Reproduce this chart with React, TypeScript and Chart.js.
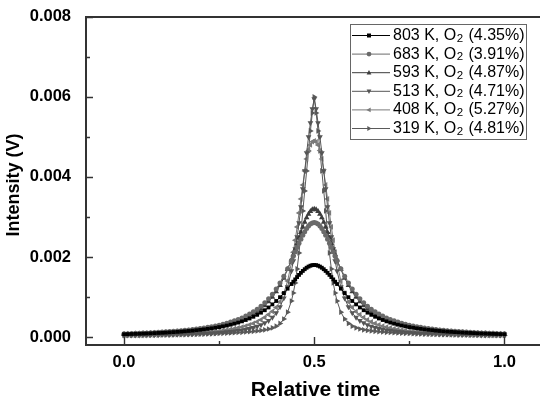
import { useEffect, useRef } from "react";
import { Chart, registerables } from "chart.js";
Chart.register(...registerables);

// Relative time (x) – denser sampling near the peak
const relTime = [
  0, 0.01, 0.02, 0.03, 0.04, 0.05, 0.06, 0.07, 0.08, 0.09, 0.1, 0.11, 0.12, 0.13, 0.14, 0.15, 0.16, 0.17, 0.18, 0.19,
  0.2, 0.21, 0.22, 0.23, 0.24, 0.25, 0.26, 0.27, 0.28, 0.29, 0.3, 0.31, 0.32, 0.33, 0.34, 0.35, 0.36, 0.37, 0.38, 0.39,
  0.4, 0.41, 0.42, 0.43, 0.44,
  0.445, 0.45, 0.455, 0.46, 0.465, 0.47, 0.475, 0.48, 0.485, 0.49, 0.495, 0.5, 0.505, 0.51, 0.515, 0.52, 0.525, 0.53,
  0.535, 0.54, 0.545, 0.55, 0.555,
  0.56, 0.57, 0.58, 0.59, 0.6, 0.61, 0.62, 0.63, 0.64, 0.65, 0.66, 0.67, 0.68, 0.69, 0.7, 0.71, 0.72, 0.73, 0.74, 0.75,
  0.76, 0.77, 0.78, 0.79, 0.8, 0.81, 0.82, 0.83, 0.84, 0.85, 0.86, 0.87, 0.88, 0.89, 0.9, 0.91, 0.92, 0.93, 0.94, 0.95,
  0.96, 0.97, 0.98, 0.99, 1.0,
];

// Intensities in mV (converted to V for plotting)
const int803K = [
  0.069, 0.072, 0.075, 0.078, 0.081, 0.085, 0.088, 0.092, 0.097, 0.101, 0.106, 0.111, 0.117, 0.123, 0.129, 0.136, 0.143, 0.151, 0.160, 0.170,
  0.180, 0.191, 0.204, 0.217, 0.232, 0.248, 0.266, 0.286, 0.308, 0.333, 0.360, 0.391, 0.425, 0.463, 0.506, 0.554, 0.608, 0.669, 0.738, 0.815,
  0.900, 0.995, 1.098, 1.208, 1.324,
  1.382, 1.440, 1.497, 1.552, 1.604, 1.651, 1.694, 1.731, 1.760, 1.782, 1.796, 1.800, 1.796, 1.782, 1.760, 1.731, 1.694, 1.651,
  1.604, 1.552, 1.497, 1.440, 1.382,
  1.324, 1.208, 1.098, 0.995, 0.900, 0.815, 0.738, 0.669, 0.608, 0.554, 0.506, 0.463, 0.425, 0.391, 0.360, 0.333, 0.308, 0.286, 0.266, 0.248,
  0.232, 0.217, 0.204, 0.191, 0.180, 0.170, 0.160, 0.151, 0.143, 0.136, 0.129, 0.123, 0.117, 0.111, 0.106, 0.101, 0.097, 0.092, 0.088, 0.085,
  0.081, 0.078, 0.075, 0.072, 0.069,
];
const int683K = [
  0.080, 0.084, 0.087, 0.091, 0.094, 0.099, 0.103, 0.108, 0.113, 0.118, 0.124, 0.130, 0.136, 0.143, 0.151, 0.159, 0.168, 0.178, 0.189, 0.200,
  0.213, 0.226, 0.241, 0.258, 0.276, 0.296, 0.319, 0.344, 0.372, 0.403, 0.438, 0.477, 0.522, 0.572, 0.630, 0.695, 0.770, 0.857, 0.956, 1.069,
  1.200, 1.348, 1.517, 1.704, 1.909,
  2.016, 2.125, 2.234, 2.342, 2.446, 2.543, 2.632, 2.710, 2.774, 2.821, 2.850, 2.860, 2.850, 2.821, 2.774, 2.710, 2.632, 2.543,
  2.446, 2.342, 2.234, 2.125, 2.016,
  1.909, 1.704, 1.517, 1.348, 1.200, 1.069, 0.956, 0.857, 0.770, 0.695, 0.630, 0.572, 0.522, 0.477, 0.438, 0.403, 0.372, 0.344, 0.319, 0.296,
  0.276, 0.258, 0.241, 0.226, 0.213, 0.200, 0.189, 0.178, 0.168, 0.159, 0.151, 0.143, 0.136, 0.130, 0.124, 0.118, 0.113, 0.108, 0.103, 0.099,
  0.094, 0.091, 0.087, 0.084, 0.080,
];
const int593K = [
  0.069, 0.071, 0.074, 0.077, 0.081, 0.084, 0.088, 0.092, 0.096, 0.101, 0.106, 0.111, 0.117, 0.123, 0.130, 0.137, 0.145, 0.153, 0.162, 0.173,
  0.184, 0.196, 0.209, 0.224, 0.240, 0.258, 0.278, 0.300, 0.325, 0.354, 0.385, 0.422, 0.463, 0.510, 0.564, 0.626, 0.699, 0.783, 0.882, 0.997,
  1.132, 1.291, 1.475, 1.689, 1.931,
  2.061, 2.197, 2.336, 2.476, 2.615, 2.748, 2.872, 2.982, 3.074, 3.143, 3.186, 3.200, 3.186, 3.143, 3.074, 2.982, 2.872, 2.748,
  2.615, 2.476, 2.336, 2.197, 2.061,
  1.931, 1.689, 1.475, 1.291, 1.132, 0.997, 0.882, 0.783, 0.699, 0.626, 0.564, 0.510, 0.463, 0.422, 0.385, 0.354, 0.325, 0.300, 0.278, 0.258,
  0.240, 0.224, 0.209, 0.196, 0.184, 0.173, 0.162, 0.153, 0.145, 0.137, 0.130, 0.123, 0.117, 0.111, 0.106, 0.101, 0.096, 0.092, 0.088, 0.084,
  0.081, 0.077, 0.074, 0.071, 0.069,
];
const int513K = [
  0.041, 0.042, 0.043, 0.044, 0.045, 0.047, 0.048, 0.050, 0.051, 0.053, 0.055, 0.057, 0.059, 0.062, 0.064, 0.067, 0.070, 0.073, 0.076, 0.080,
  0.084, 0.088, 0.093, 0.098, 0.104, 0.111, 0.118, 0.126, 0.135, 0.146, 0.158, 0.173, 0.190, 0.210, 0.235, 0.265, 0.300, 0.350, 0.410, 0.490,
  0.600, 0.750, 0.970, 1.250, 1.650,
  1.900, 2.200, 2.500, 2.850, 3.250, 3.700, 4.150, 4.600, 5.000, 5.350, 5.700, 5.950, 5.700, 5.350, 5.000, 4.600, 4.150, 3.700,
  3.250, 2.850, 2.500, 2.200, 1.900,
  1.650, 1.250, 0.970, 0.750, 0.600, 0.490, 0.410, 0.350, 0.300, 0.265, 0.235, 0.210, 0.190, 0.173, 0.158, 0.146, 0.135, 0.126, 0.118, 0.111,
  0.104, 0.098, 0.093, 0.088, 0.084, 0.080, 0.076, 0.073, 0.070, 0.067, 0.064, 0.062, 0.059, 0.057, 0.055, 0.053, 0.051, 0.050, 0.048, 0.047,
  0.045, 0.044, 0.043, 0.042, 0.041,
];
const int408K = [
  0.049, 0.050, 0.052, 0.053, 0.055, 0.057, 0.059, 0.061, 0.064, 0.066, 0.069, 0.072, 0.075, 0.078, 0.082, 0.086, 0.090, 0.095, 0.100, 0.106,
  0.112, 0.118, 0.126, 0.134, 0.143, 0.153, 0.164, 0.177, 0.192, 0.209, 0.228, 0.250, 0.275, 0.305, 0.340, 0.380, 0.430, 0.490, 0.560, 0.640,
  0.740, 0.880, 1.100, 1.400, 1.850,
  2.120, 2.420, 2.750, 3.100, 3.450, 3.800, 4.150, 4.450, 4.660, 4.800, 4.880, 4.900, 4.880, 4.800, 4.660, 4.450, 4.150, 3.800,
  3.450, 3.100, 2.750, 2.420, 2.120,
  1.850, 1.400, 1.100, 0.880, 0.740, 0.640, 0.560, 0.490, 0.430, 0.380, 0.340, 0.305, 0.275, 0.250, 0.228, 0.209, 0.192, 0.177, 0.164, 0.153,
  0.143, 0.134, 0.126, 0.118, 0.112, 0.106, 0.100, 0.095, 0.090, 0.086, 0.082, 0.078, 0.075, 0.072, 0.069, 0.066, 0.064, 0.061, 0.059, 0.057,
  0.055, 0.053, 0.052, 0.050, 0.049,
];
const int319K = [
  0.038, 0.039, 0.040, 0.041, 0.042, 0.043, 0.044, 0.045, 0.047, 0.048, 0.050, 0.051, 0.053, 0.055, 0.057, 0.059, 0.061, 0.063, 0.066, 0.068,
  0.071, 0.074, 0.077, 0.080, 0.084, 0.088, 0.092, 0.096, 0.101, 0.106, 0.112, 0.118, 0.125, 0.133, 0.142, 0.152, 0.165, 0.180, 0.200, 0.230,
  0.270, 0.340, 0.450, 0.620, 0.900,
  1.100, 1.350, 1.700, 2.100, 2.600, 3.150, 3.650, 4.150, 4.650, 5.150, 5.600, 6.000, 5.600, 5.150, 4.650, 4.150, 3.650, 3.150,
  2.600, 2.100, 1.700, 1.350, 1.100,
  0.900, 0.620, 0.450, 0.340, 0.270, 0.230, 0.200, 0.180, 0.165, 0.152, 0.142, 0.133, 0.125, 0.118, 0.112, 0.106, 0.101, 0.096, 0.092, 0.088,
  0.084, 0.080, 0.077, 0.074, 0.071, 0.068, 0.066, 0.063, 0.061, 0.059, 0.057, 0.055, 0.053, 0.051, 0.050, 0.048, 0.047, 0.045, 0.044, 0.043,
  0.042, 0.041, 0.040, 0.039, 0.038,
];

const temperatures = ["803 K", "683 K", "593 K", "513 K", "408 K", "319 K"];
const o2Fractions = ["4.35%", "3.91%", "4.87%", "4.71%", "5.27%", "4.81%"];
const seriesValues = [int803K, int683K, int593K, int513K, int408K, int319K];

const xMajorTicks = [0, 0.5, 1.0];
const xMinorTicks = [0.25, 0.75];
const yMajorTicks = [0, 0.002, 0.004, 0.006, 0.008];
const yMinorTicks = [0.001, 0.003, 0.005, 0.007];

// styles
const seriesColors = ["#000000", "#6a6a6a", "#3c3c3c", "#555555", "#7a7a7a", "#5a5a5a"];
const pointStyles = ["rect", "circle", "triangle", "triangle", "triangle", "triangle"];
const pointRotations = [0, 0, 0, 180, 270, 90];
const pointRadii = [2.7, 2.5, 3.3, 3.3, 3.3, 3.3];

const FONT = "'Liberation Sans', Arial, sans-serif";

function drawMarker(ctx: CanvasRenderingContext2D, style: string, rot: number, cx: number, cy: number, r: number) {
  ctx.save();
  ctx.translate(cx, cy);
  ctx.rotate((rot * Math.PI) / 180);
  ctx.beginPath();
  if (style === "rect") {
    ctx.rect(-r, -r, 2 * r, 2 * r);
  } else if (style === "circle") {
    ctx.arc(0, 0, r, 0, Math.PI * 2);
  } else {
    ctx.moveTo(0, -r * 1.1);
    ctx.lineTo(r, r * 0.7);
    ctx.lineTo(-r, r * 0.7);
    ctx.closePath();
  }
  ctx.fill();
  ctx.restore();
}

const decorPlugin = {
  id: "decor",
  afterDraw(chart: any) {
    const { ctx, chartArea: a, scales } = chart;
    const xs = scales.x;
    const ys = scales.y;
    const W = chart.width;
    ctx.save();
    // frame
    ctx.strokeStyle = "#333";
    ctx.lineWidth = 2;
    ctx.beginPath();
    ctx.moveTo(W + 2, a.top);
    ctx.lineTo(a.left, a.top);
    ctx.lineTo(a.left, a.bottom);
    ctx.lineTo(W + 2, a.bottom);
    ctx.stroke();
    // ticks (inward)
    ctx.lineWidth = 1.4;
    ctx.beginPath();
    yMajorTicks.forEach((v) => {
      const p = Math.round(ys.getPixelForValue(v)) + 0.5;
      ctx.moveTo(a.left, p);
      ctx.lineTo(a.left + 7, p);
    });
    yMinorTicks.forEach((v) => {
      const p = Math.round(ys.getPixelForValue(v)) + 0.5;
      ctx.moveTo(a.left, p);
      ctx.lineTo(a.left + 4, p);
    });
    xMajorTicks.forEach((v) => {
      const p = Math.round(xs.getPixelForValue(v)) + 0.5;
      ctx.moveTo(p, a.bottom);
      ctx.lineTo(p, a.bottom - 8);
    });
    xMinorTicks.forEach((v) => {
      const p = Math.round(xs.getPixelForValue(v)) + 0.5;
      ctx.moveTo(p, a.bottom);
      ctx.lineTo(p, a.bottom - 4);
    });
    ctx.stroke();

    // axis titles
    ctx.fillStyle = "#000";
    ctx.font = `bold 21px ${FONT}`;
    ctx.textAlign = "center";
    ctx.textBaseline = "middle";
    ctx.fillText("Relative time", 315.5, 390);
    ctx.save();
    ctx.translate(14, 185);
    ctx.rotate(-Math.PI / 2);
    ctx.font = `bold 18px ${FONT}`;
    ctx.fillText("Intensity (V)", 0, 0);
    ctx.restore();

    // legend
    const bx = 350.5, by = 24.5, bw = 176, bh = 115;
    ctx.fillStyle = "#fff";
    ctx.fillRect(bx, by, bw, bh);
    ctx.strokeStyle = "#666";
    ctx.lineWidth = 1;
    ctx.strokeRect(bx, by, bw, bh);
    ctx.textAlign = "left";
    ctx.textBaseline = "middle";
    temperatures.forEach((t, i) => {
      const cy = 35.5 + i * 18.6;
      ctx.strokeStyle = seriesColors[i];
      ctx.lineWidth = 1;
      ctx.beginPath();
      ctx.moveTo(352, cy);
      ctx.lineTo(390, cy);
      ctx.stroke();
      ctx.fillStyle = seriesColors[i];
      drawMarker(ctx, pointStyles[i], pointRotations[i], 369, cy, pointStyles[i] === "rect" ? 2 : 2.4);
      ctx.fillStyle = "#000";
      ctx.font = `16px ${FONT}`;
      let x = 393;
      const part1 = `${t}, O`;
      ctx.fillText(part1, x, cy);
      x += ctx.measureText(part1).width + 0.5;
      ctx.font = `11.5px ${FONT}`;
      ctx.fillText("2", x, cy + 3);
      x += ctx.measureText("2").width + 1;
      ctx.font = `16px ${FONT}`;
      ctx.fillText(` (${o2Fractions[i]})`, x, cy);
    });
    ctx.restore();
  },
};

export default function App() {
  const ref = useRef<HTMLCanvasElement | null>(null);
  useEffect(() => {
    document.body.style.margin = "0";
    const canvas = ref.current;
    if (!canvas) return;
    const datasets = seriesValues.map((vals, i) => ({
      label: `${temperatures[i]}, O2 (${o2Fractions[i]})`,
      data: relTime.map((x, j) => ({ x, y: vals[j] / 1000 })),
      borderColor: seriesColors[i],
      backgroundColor: seriesColors[i],
      pointBackgroundColor: seriesColors[i],
      pointBorderColor: seriesColors[i],
      pointBorderWidth: 0,
      borderWidth: 1,
      pointStyle: pointStyles[i],
      pointRotation: pointRotations[i],
      pointRadius: pointRadii[i],
      tension: 0,
      fill: false,
    }));
    const chart = new Chart(canvas, {
      type: "line",
      data: { datasets },
      options: {
        responsive: false,
        animation: false,
        devicePixelRatio: 1,
        layout: { padding: { top: 15, right: 0, left: 0, bottom: 0 } },
        plugins: { legend: { display: false }, tooltip: { enabled: false } },
        scales: {
          x: {
            type: "linear",
            min: -0.1,
            max: 1.083,
            afterBuildTicks: (s: any) => {
              s.ticks = xMajorTicks.map((v) => ({ value: v }));
            },
            afterFit: (s: any) => {
              s.height = 58;
            },
            grid: { display: false },
            border: { display: false },
            ticks: {
              autoSkip: false,
              maxRotation: 0,
              padding: 0,
              color: "#000",
              font: { family: FONT, size: 16.5, weight: "bold" },
              callback: (v: any) => Number(v).toFixed(1),
            },
          },
          y: {
            type: "linear",
            min: -0.0002,
            max: 0.008,
            afterBuildTicks: (s: any) => {
              s.ticks = yMajorTicks.map((v) => ({ value: v }));
            },
            afterFit: (s: any) => {
              s.width = 86;
            },
            grid: { display: false },
            border: { display: false },
            ticks: {
              autoSkip: false,
              padding: 7,
              color: "#000",
              font: { family: FONT, size: 16.5, weight: "bold" },
              callback: (v: any) => Number(v).toFixed(3),
            },
          },
        },
      } as any,
      plugins: [decorPlugin],
    });
    return () => chart.destroy();
  }, []);
  return <canvas ref={ref} width={540} height={403} style={{ display: "block" }} />;
}
